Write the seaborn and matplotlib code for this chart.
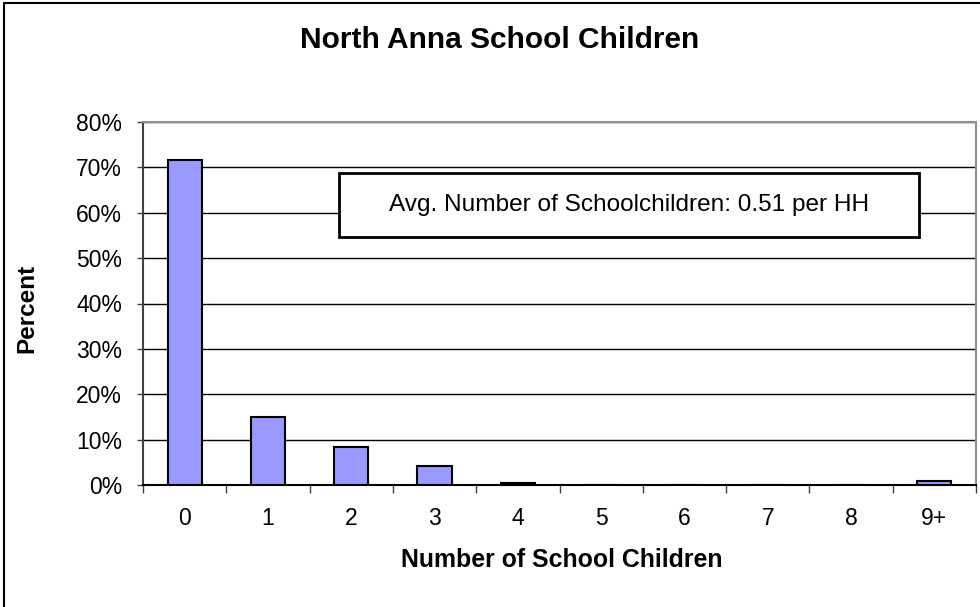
import matplotlib
matplotlib.use("Agg")
import matplotlib.pyplot as plt
import seaborn as sns
import pandas as pd
from matplotlib.ticker import FuncFormatter
from matplotlib.patches import Rectangle

categories = ["0", "1", "2", "3", "4", "5", "6", "7", "8", "9+"]
percent = [71.6, 15.0, 8.3, 4.1, 0.4, 0.0, 0.0, 0.0, 0.0, 0.8]
y_ticks = [0, 10, 20, 30, 40, 50, 60, 70, 80]
title = "North Anna School Children"
x_label = "Number of School Children"
y_label = "Percent"
note = "Avg. Number of Schoolchildren: 0.51 per HH"

sns.set_theme(style="white")
plt.rcParams["font.family"] = ["Liberation Sans", "DejaVu Sans"]
plt.rcParams["text.color"] = "black"

df = pd.DataFrame({"cat": categories, "pct": percent})

fig = plt.figure(figsize=(9.8, 6.07), dpi=100)
fig.patch.set_facecolor("white")
ax = fig.add_axes([143 / 980, 1 - 485 / 607, (976 - 143) / 980, (485 - 122) / 607])

sns.barplot(data=df, x="cat", y="pct", order=categories, color="#9999FF",
            saturation=1, width=0.41, edgecolor="black", linewidth=1.5, ax=ax, zorder=3)

ax.set_ylim(0, 80)
ax.set_xlim(-0.5, len(categories) - 0.5)
ax.set_yticks(y_ticks)
ax.yaxis.set_major_formatter(FuncFormatter(lambda v, p: f"{v:.0f}%"))
ax.yaxis.grid(True, color="black", linewidth=1.0, zorder=0)
ax.set_axisbelow(True)

# x ticks at category boundaries, labels centered
ax.set_xticks([i - 0.5 for i in range(len(categories) + 1)])
ax.set_xticklabels([])
ax.set_xticks(range(len(categories)), minor=True)
ax.set_xticklabels(categories, minor=True)
ax.tick_params(axis="x", which="major", length=6, width=1, color="#404040", direction="out", bottom=True)
ax.tick_params(axis="x", which="minor", length=0, labelsize=16.5, pad=16, colors="black")
ax.tick_params(axis="y", length=4.5, width=1, color="#404040", direction="out", left=True,
               labelsize=16.5, pad=10.5, colors="black")

for side in ["top", "right"]:
    ax.spines[side].set_color("#909090")
    ax.spines[side].set_linewidth(1.5)
ax.spines["left"].set_color("#404040")
ax.spines["left"].set_linewidth(1.5)
ax.spines["bottom"].set_color("black")
ax.spines["bottom"].set_linewidth(1.5)

ax.set_xlabel("")
ax.set_ylabel("")

fig.text(500 / 980, 1 - 40 / 607, title, ha="center", va="center", fontsize=21.5, fontweight="bold")
fig.text(562 / 980, 1 - 560 / 607, x_label, ha="center", va="center", fontsize=17.9, fontweight="bold")
fig.text(27 / 980, 1 - 308 / 607, y_label, ha="center", va="center", fontsize=17.5,
         fontweight="bold", rotation=90)

# annotation box
bx0, bx1 = 339 / 980, 919 / 980
by0, by1 = 1 - 237 / 607, 1 - 173 / 607
fig.patches.append(Rectangle((bx0, by0), bx1 - bx0, by1 - by0, transform=fig.transFigure,
                             facecolor="white", edgecolor="black", linewidth=2, zorder=5))
fig.text((bx0 + bx1) / 2, (by0 + by1) / 2, note, ha="center", va="center", fontsize=17.6, zorder=6)

# outer chart frame
fig.patches.append(Rectangle((4 / 980, -0.05), 1.1, 0.05 + (1 - 3 / 607), transform=fig.transFigure,
                             facecolor="none", edgecolor="black", linewidth=1.5, zorder=0))

fig.savefig("out.png", dpi=100)
